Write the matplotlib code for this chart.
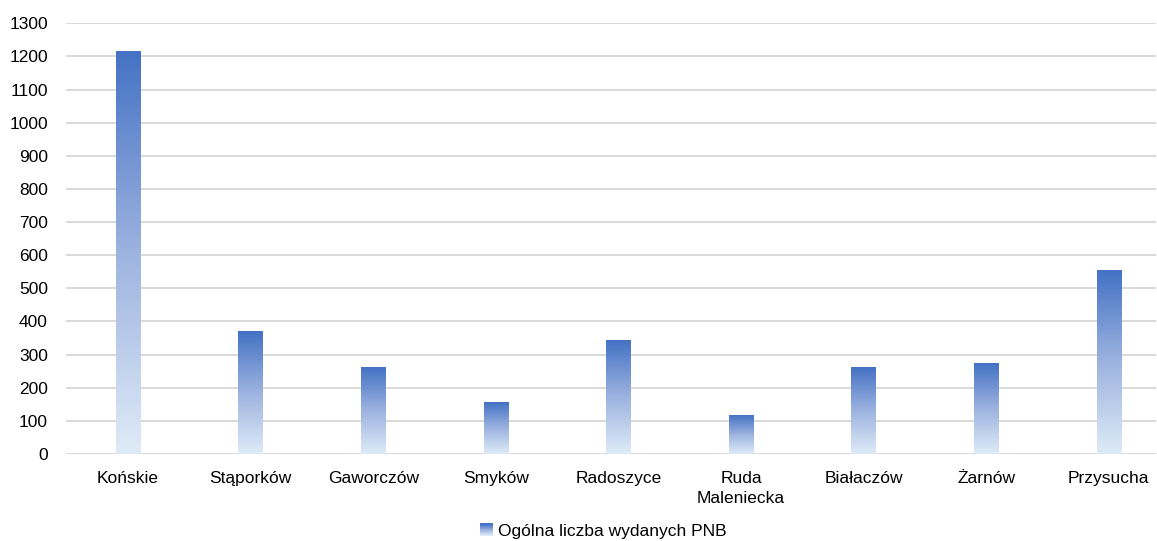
import matplotlib
matplotlib.use("Agg")
import matplotlib.pyplot as plt
import numpy as np
from matplotlib.colors import LinearSegmentedColormap
from matplotlib.legend_handler import HandlerBase
from matplotlib.patches import Rectangle

categories = ["Końskie", "Stąporków", "Gaworczów", "Smyków", "Radoszyce",
              "Ruda\nMaleniecka", "Białaczów", "Żarnów", "Przysucha"]
values = [1216, 370, 262, 154, 343, 117, 262, 274, 554]
series_name = "Ogólna liczba wydanych PNB"
yticks = list(range(0, 1301, 100))

plt.rcParams['font.family'] = ['Liberation Sans', 'DejaVu Sans']
plt.rcParams['font.size'] = 12.5

top_col = "#4472C4"
bot_col = "#DEEBF7"
cmap = LinearSegmentedColormap.from_list("g", [bot_col, "#9DB3E0", top_col], N=256)

fig = plt.figure(figsize=(11.57, 5.41), dpi=100)
ax = fig.add_axes([66/1157, 87/541, (1156-66)/1157, (454-23.3)/541])

x = np.arange(len(categories))
bars = ax.bar(x, values, width=0.2, color='none', edgecolor='none', zorder=3)
grad = np.linspace(0, 1, 256).reshape(-1, 1)
for b in bars:
    x0 = b.get_x(); w = b.get_width(); h = b.get_height()
    ax.imshow(grad, extent=[x0, x0 + w, 0, h], origin='lower', aspect='auto',
              cmap=cmap, zorder=3, interpolation='bilinear')

ax.set_xlim(-0.506, 8.385)
ax.set_ylim(0, 1300)
ax.set_yticks(yticks)
ax.set_xticks(x)
ax.set_xticklabels(categories, linespacing=1.45)
ax.tick_params(axis='y', length=0, pad=13)
ax.tick_params(axis='x', length=0, pad=12)
for s in ax.spines.values():
    s.set_visible(False)
ax.yaxis.grid(True, color='#D9D9D9', linewidth=1.4, zorder=0)
ax.set_axisbelow(True)


class GradHandler(HandlerBase):
    def create_artists(self, legend, orig_handle, xdescent, ydescent, width, height, fontsize, trans):
        n = 12
        arts = []
        sz = height * 1.05
        x0 = xdescent + width - sz
        for i in range(n):
            c = cmap(i / (n - 1))
            r = Rectangle((x0, -ydescent + sz * i / n - 0.5), sz, sz / n + 0.05,
                          facecolor=c, edgecolor='none', transform=trans)
            arts.append(r)
        return arts


proxy = Rectangle((0, 0), 1, 1)
fig.legend([proxy], [series_name], handler_map={Rectangle: GradHandler()},
           loc='center', bbox_to_anchor=(0.521, 1 - 531/541), frameon=False,
           handlelength=0.8, handletextpad=0.3, fontsize=12.5)

fig.savefig("out.png", dpi=100)
